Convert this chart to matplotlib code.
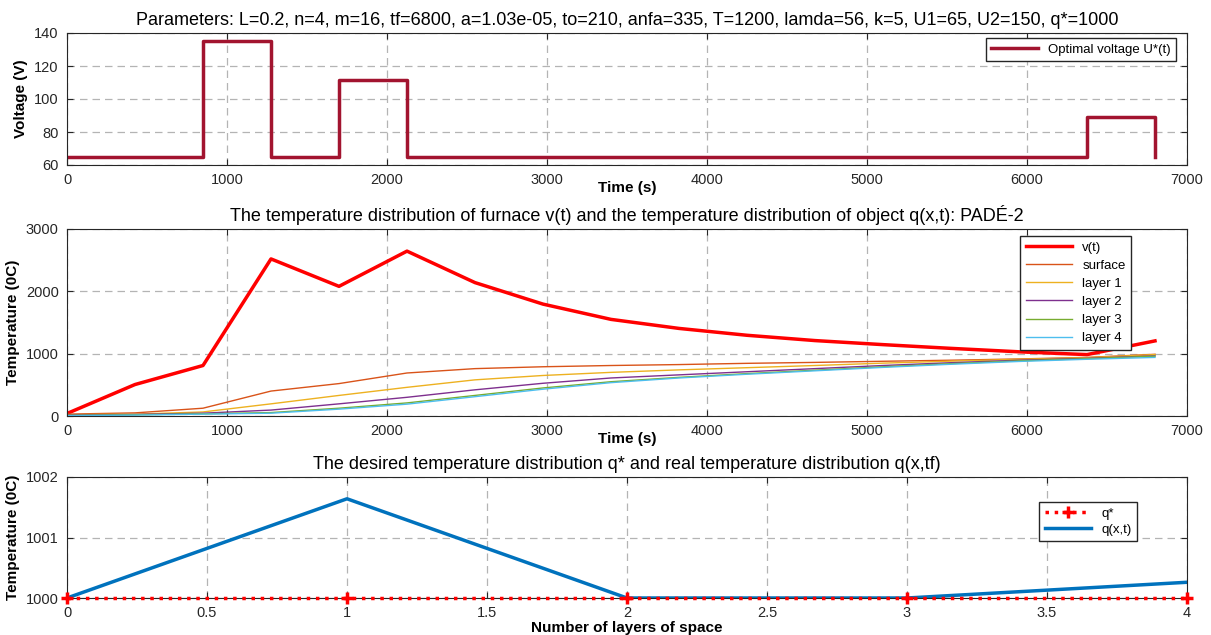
import matplotlib
matplotlib.use("Agg")
import matplotlib.pyplot as plt

plt.rcParams["font.family"] = ["Liberation Sans", "DejaVu Sans"]

# time grid (m=16 intervals of tf/16)
t = [0, 425, 850, 1275, 1700, 2125, 2550, 2975, 3400, 3825, 4250, 4675, 5100, 5525, 5950, 6375, 6800]
u_opt = [65, 65, 135, 65, 111.5, 65, 65, 65, 65, 65, 65, 65, 65, 65, 65, 89, 65]

v_t = [40, 505, 810, 2520, 2080, 2645, 2140, 1795, 1550, 1405, 1295, 1210, 1145, 1085, 1030, 985, 1205]
surface = [30, 50, 125, 400, 520, 690, 760, 790, 810, 825, 845, 860, 878, 895, 915, 940, 990]
layer1 = [20, 30, 65, 195, 330, 460, 580, 650, 700, 740, 775, 810, 848, 880, 910, 935, 985]
layer2 = [15, 25, 45, 95, 195, 300, 420, 525, 610, 660, 710, 760, 810, 855, 895, 925, 965]
layer3 = [10, 20, 35, 55, 125, 210, 330, 450, 550, 620, 680, 735, 790, 840, 885, 920, 960]
layer4 = [5, 15, 30, 45, 110, 190, 310, 430, 535, 610, 670, 725, 780, 830, 875, 910, 940]

layers = [0, 1, 2, 3, 4]
q_star = [1000, 1000, 1000, 1000, 1000]
q_real = [1000, 1001.64, 1000, 1000, 1000.26]

W, H = 1211, 635


def px_axes(fig, left, right, top, bottom):
    return fig.add_axes([left / W, 1 - bottom / H, (right - left) / W, (bottom - top) / H])


def style(ax):
    ax.grid(True, color="#b4b4b4", linestyle=(0, (6, 4)), linewidth=0.9)
    ax.tick_params(direction="in", top=True, right=True, labelsize=10.5,
                   colors="#262626", length=4, pad=6)
    for s in ax.spines.values():
        s.set_color("#262626")
        s.set_linewidth(0.8)


fig = plt.figure(figsize=(W / 100, H / 100), dpi=100)

# voltage
ax1 = px_axes(fig, 67, 1187, 33, 165)
ax1.plot(t, u_opt, drawstyle="steps-post", color="#A2142F", linewidth=2.5,
         label="Optimal voltage U*(t)")
ax1.set_xlim(0, 7000)
ax1.set_ylim(60, 140)
ax1.set_yticks([60, 80, 100, 120, 140])
style(ax1)
ax1.set_title("Parameters: L=0.2, n=4, m=16, tf=6800, a=1.03e-05, to=210, anfa=335, "
              "T=1200, lamda=56, k=5, U1=65, U2=150, q*=1000", fontsize=13, pad=6)
ax1.set_ylabel("Voltage (V)", fontweight="bold", fontsize=11)
ax1.set_xlabel("Time (s)", fontweight="bold", fontsize=11)
ax1.xaxis.set_label_coords(0.5, -0.12)
ax1.legend(loc="upper right", bbox_to_anchor=(1 - 11 / 1120, 1 - 5 / 132),
           fontsize=9.5, fancybox=False, edgecolor="#262626", framealpha=1,
           borderaxespad=0, handlelength=3.5)

# temperature vs time
ax2 = px_axes(fig, 67, 1187, 229, 416)
ax2.plot(t, v_t, color="#FF0000", linewidth=2.5, label="v(t)")
ax2.plot(t, surface, color="#D95319", linewidth=1, label="surface")
ax2.plot(t, layer1, color="#EDB120", linewidth=1, label="layer 1")
ax2.plot(t, layer2, color="#7E2F8E", linewidth=1, label="layer 2")
ax2.plot(t, layer3, color="#77AC30", linewidth=1, label="layer 3")
ax2.plot(t, layer4, color="#4DBEEE", linewidth=1, label="layer 4")
ax2.set_xlim(0, 7000)
ax2.set_ylim(0, 3000)
ax2.set_yticks([0, 1000, 2000, 3000])
style(ax2)
ax2.set_title("The temperature distribution of furnace v(t) and the temperature "
              "distribution of object q(x,t): PADÉ-2", fontsize=13, pad=6)
ax2.set_ylabel("Temperature (0C)", fontweight="bold", fontsize=11)
ax2.set_xlabel("Time (s)", fontweight="bold", fontsize=11)
ax2.xaxis.set_label_coords(0.5, -0.085)
ax2.legend(loc="upper right", bbox_to_anchor=(1 - 56 / 1120, 1 - 7 / 187),
           fontsize=9.5, fancybox=False, edgecolor="#262626", framealpha=1,
           borderaxespad=0, handlelength=3.5, labelspacing=0.45)

# final distribution
ax3 = px_axes(fig, 67, 1187, 477, 598)
ax3.plot(layers, q_real, color="#0072BD", linewidth=2.5, label="q(x,t)", zorder=2)
ax3.plot(layers, q_star, color="#FF0000", linestyle=":", linewidth=2.5,
         marker="+", markersize=9, markeredgewidth=2.5, label="q*",
         zorder=3, clip_on=False)
ax3.set_xlim(0, 4)
ax3.set_ylim(1000, 1002)
ax3.set_yticks([1000, 1001, 1002])
ax3.set_xticks([0, 0.5, 1, 1.5, 2, 2.5, 3, 3.5, 4])
ax3.set_xticklabels(["0", "0.5", "1", "1.5", "2", "2.5", "3", "3.5", "4"])
style(ax3)
ax3.set_title("The desired temperature distribution q* and real temperature "
              "distribution q(x,tf)", fontsize=13, pad=6)
ax3.set_ylabel("Temperature (0C)", fontweight="bold", fontsize=11)
ax3.set_xlabel("Number of layers of space", fontweight="bold", fontsize=11)
ax3.xaxis.set_label_coords(0.5, -0.19)
h, l = ax3.get_legend_handles_labels()
ax3.legend(h[::-1], l[::-1], loc="upper right",
           bbox_to_anchor=(1 - 50 / 1120, 1 - 25 / 121),
           fontsize=9.5, fancybox=False, edgecolor="#262626", framealpha=1,
           borderaxespad=0, handlelength=3.5, labelspacing=0.3)

fig.savefig("out.png", dpi=100)
